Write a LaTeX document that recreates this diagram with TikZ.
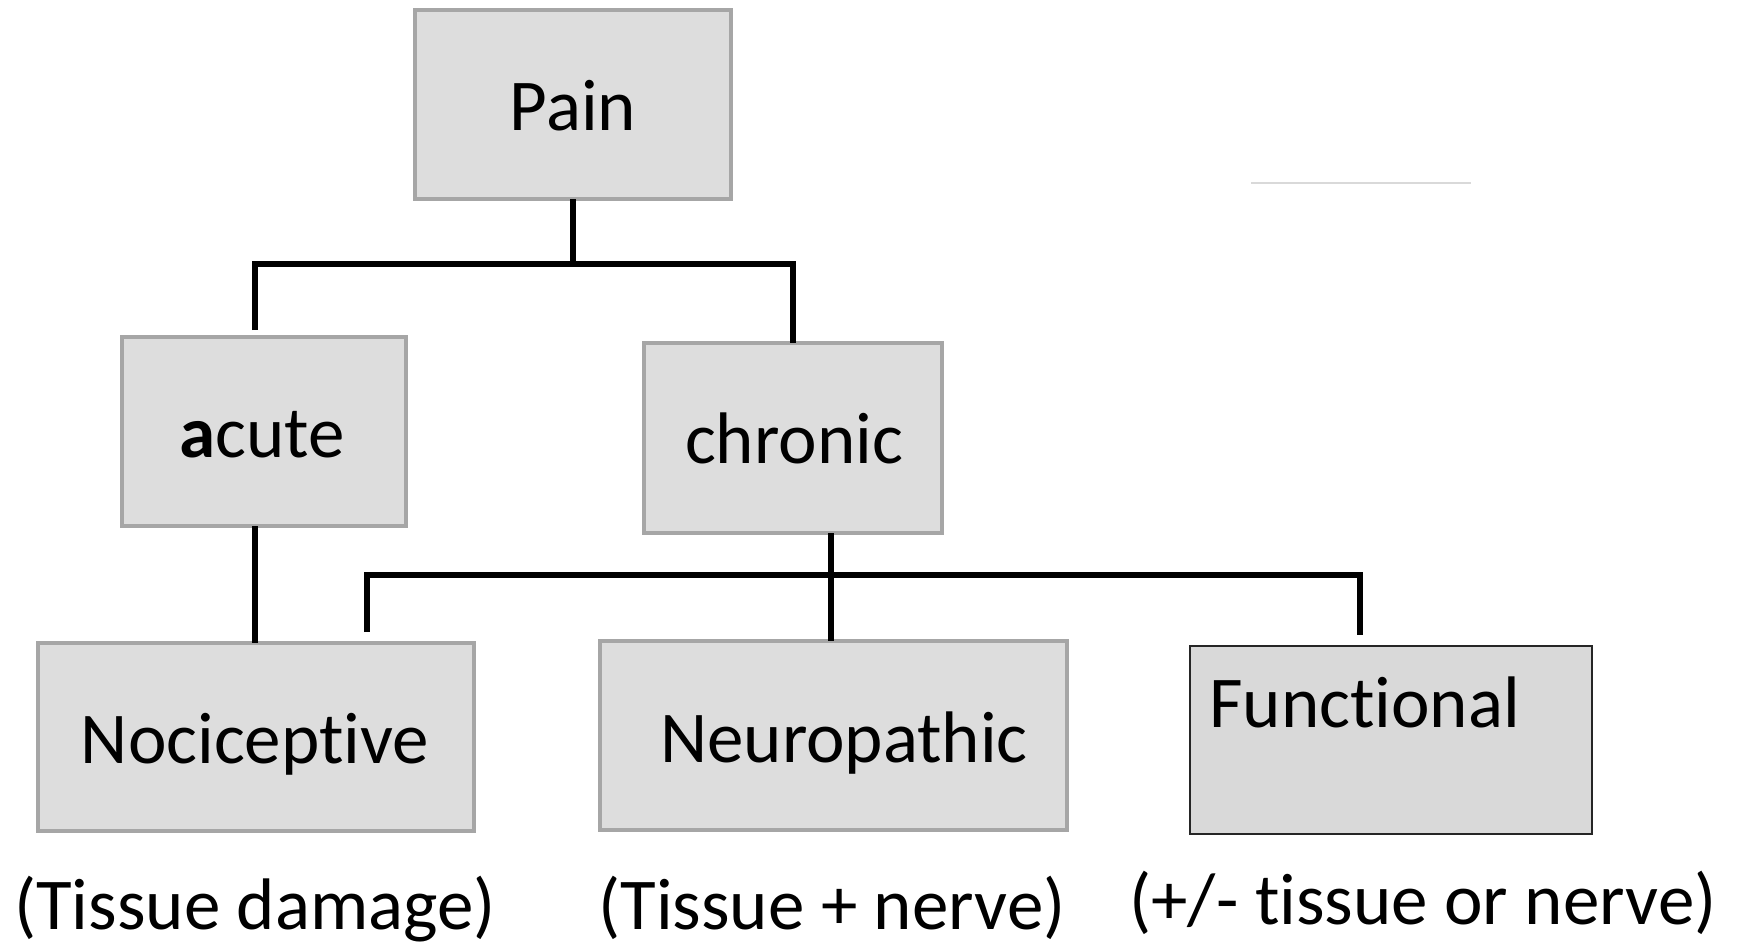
\documentclass[tikz,border=0pt]{standalone}
\usepackage{fontspec}
\setmainfont{Carlito}[Ligatures={NoCommon}]
\newcommand{\nolig}{\kern0pt{}}
\begin{document}
\begin{tikzpicture}[x=1pt,y=-1pt,
  box/.style={draw=boxgray,fill=boxfill,line width=4pt,inner sep=0pt,outer sep=0pt},
  fbox/.style={draw=black!85,fill=ffill,line width=2pt,inner sep=0pt,outer sep=0pt},
  txt/.style={inner sep=0pt,anchor=base,font=\fontsize{73}{88}\selectfont},
  conn/.style={draw=black,line width=5.5pt},
]
\definecolor{boxgray}{HTML}{A6A6A6}
\definecolor{boxfill}{HTML}{DDDDDD}
\definecolor{ffill}{HTML}{D9D9D9}
\definecolor{faint}{HTML}{D9D9D9}
\useasboundingbox[fill=white] (0,0) rectangle (1741,945);

% boxes
\node[box,minimum width=316pt,minimum height=189pt] (pain) at (573,104.5) {};
\node[box,minimum width=284pt,minimum height=189pt] (acute) at (264,431.5) {};
\node[box,minimum width=298pt,minimum height=190pt] (chronic) at (793,438) {};
\node[box,minimum width=436pt,minimum height=188pt] (noci) at (256,737) {};
\node[box,minimum width=467pt,minimum height=189pt] (neuro) at (833.5,735.5) {};
\node[fbox,minimum width=402pt,minimum height=188pt] (func) at (1391,740) {};

% texts
\node[txt] (tpain) at (573,130) {Pain};
\node[txt] (tacute) at (262,457) {\textbf{a}cute};
\node[txt] (tchronic) at (794,463) {chronic};
\node[txt] (tnoci) at (255,763) {Nocicept\nolig ive};
\node[txt] (tneuro) at (844,762) {Neuropathic};
\node[txt,anchor=base west] (tfunc) at (1209,727) {Funct\nolig ional};
\node[txt] (lnoci) at (255,929) {(Tissue damage)};
\node[txt] (lneuro) at (832,929) {(Tissue + nerve)};
\node[txt] (lfunc) at (1423,924) {(+/- t\nolig issue or nerve)};

% faint line top right
\coordinate (g1) at (1251,183);
\coordinate (g2) at (1471,183);
\draw[faint,line width=2pt] (g1) -- (g2);

% connectors: Pain -> acute / chronic
\coordinate (pj) at (573,264);
\coordinate (aj) at (255,330);
\draw[conn] (pain.south) -- (pj);
\draw[conn] (aj) |- (chronic.north |- pj) -- (chronic.north);

% acute -> Nociceptive
\draw[conn] (aj |- acute.south) -- (aj |- noci.north);

% chronic -> Neuropathic
\coordinate (cn) at (831,0);
\draw[conn] (cn |- chronic.south) -- (cn |- neuro.north);

% bracket over the three classes
\coordinate (b1) at (367,632);
\coordinate (bl) at (367,575);
\coordinate (br) at (1360,575);
\coordinate (b2) at (1360,635);
\draw[conn] (b1) -- (bl) -- (br) -- (b2);
\end{tikzpicture}
\end{document}
